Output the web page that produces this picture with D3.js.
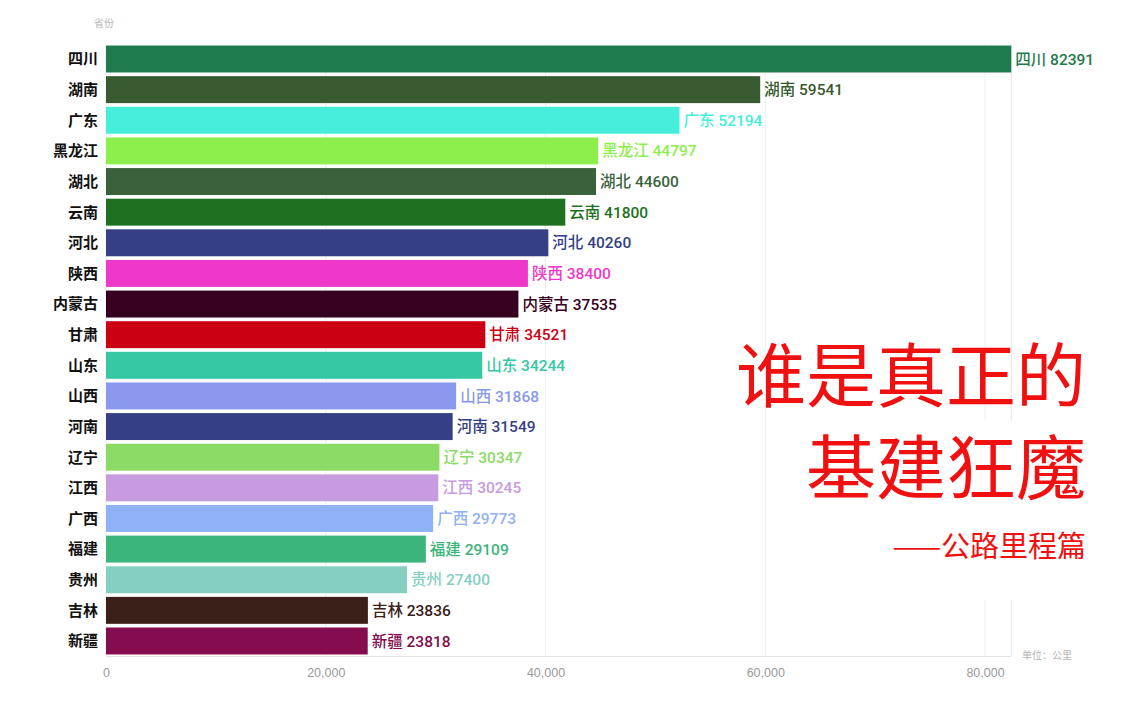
<!DOCTYPE html>
<html><head><meta charset="utf-8">
<script src="https://cdn.jsdelivr.net/npm/d3@7"></script>
<style>
html,body{margin:0;padding:0;background:#fff;}
svg{display:block;font-family:"Noto Sans CJK SC","Noto Sans",sans-serif;}
</style></head>
<body><svg id="c" width="1146" height="716"></svg>
<script>
const provinces = ["四川","湖南","广东","黑龙江","湖北","云南","河北","陕西","内蒙古","甘肃","山东","山西","河南","辽宁","江西","广西","福建","贵州","吉林","新疆"];
const mileage = [82391,59541,52194,44797,44600,41800,40260,38400,37535,34521,34244,31868,31549,30347,30245,29773,29109,27400,23836,23818];
const colors = ["#1f7b4d","#375a30","#46efdc","#8cef4c","#3a623a","#1d7121","#343f86","#ef38c9","#370021","#cc0012","#36c7a4","#8a98ee","#343f86","#8bdb66","#c79be0","#8fb1f6","#3bb57c","#85cfc2","#3b2019","#840c4f"];
const xTicks = [0,20000,40000,60000,80000];

const svg = d3.select("#c");
const x = d3.scaleLinear().domain([0,80000]).range([106,985]);
const y = d3.scaleBand().domain(provinces).range([44,656]).paddingInner(0.12).paddingOuter(0.05);

// grid
svg.append("g").selectAll("line").data(xTicks).join("line")
  .attr("x1",d=>x(d)).attr("x2",d=>x(d)).attr("y1",44).attr("y2",656)
  .attr("stroke","#eeeeee").attr("stroke-width",1);
svg.append("line").attr("x1",x(82391)).attr("x2",x(82391)).attr("y1",44).attr("y2",656)
  .attr("stroke","#e6e6e6");
svg.append("line").attr("x1",106).attr("x2",x(82391)).attr("y1",656.5).attr("y2",656.5)
  .attr("stroke","#e3e3e3");

// bars
svg.append("g").selectAll("rect").data(provinces).join("rect")
  .attr("x",x(0)).attr("y",d=>y(d)).attr("height",y.bandwidth())
  .attr("width",(d,i)=>x(mileage[i])-x(0)).attr("fill",(d,i)=>colors[i]);

// category labels
svg.append("g").selectAll("text").data(provinces).join("text")
  .attr("x",98).attr("y",d=>y(d)+y.bandwidth()/2).attr("dy","0.36em")
  .attr("text-anchor","end").attr("font-size",15).attr("font-weight",700).attr("fill","#111")
  .text(d=>d);

// value labels
svg.append("g").selectAll("text").data(provinces).join("text")
  .attr("x",(d,i)=>x(mileage[i])+4).attr("y",d=>y(d)+y.bandwidth()/2).attr("dy","0.36em")
  .attr("font-size",15.5).attr("font-weight",500).attr("fill",(d,i)=>colors[i])
  .attr("font-family","Roboto,'Noto Sans CJK SC',sans-serif")
  .text((d,i)=>d+" "+mileage[i]);

// axis
const ax = svg.append("g").attr("transform","translate(0,664)")
  .call(d3.axisBottom(x).tickValues(xTicks).tickFormat(d3.format(",")).tickSize(0).tickPadding(4));
ax.select(".domain").remove();
ax.selectAll("text").attr("fill","#9a9a9a").attr("font-size",12.5)
  .attr("font-family","'Liberation Sans',sans-serif");

svg.append("text").attr("x",104).attr("y",27).attr("text-anchor","middle")
  .attr("font-size",10).attr("fill","#b5b5b5").text("省份");
svg.append("text").attr("x",1022).attr("y",659)
  .attr("font-size",10).attr("fill","#b5b5b5").text("单位：公里");

// title
svg.append("rect").attr("x",795).attr("y",420).attr("width",290).attr("height",180).attr("fill","#fff");
const t = svg.append("g").attr("fill","#f01010").attr("text-anchor","end");
t.append("text").attr("x",1086).attr("y",402).attr("font-size",70).attr("font-weight",400).text("谁是真正的");
t.append("text").attr("x",1086).attr("y",494).attr("font-size",70).attr("font-weight",400).text("基建狂魔");
t.append("text").attr("x",1086).attr("y",557).attr("font-size",29).attr("font-weight",400).text("——公路里程篇");
</script></body></html>
